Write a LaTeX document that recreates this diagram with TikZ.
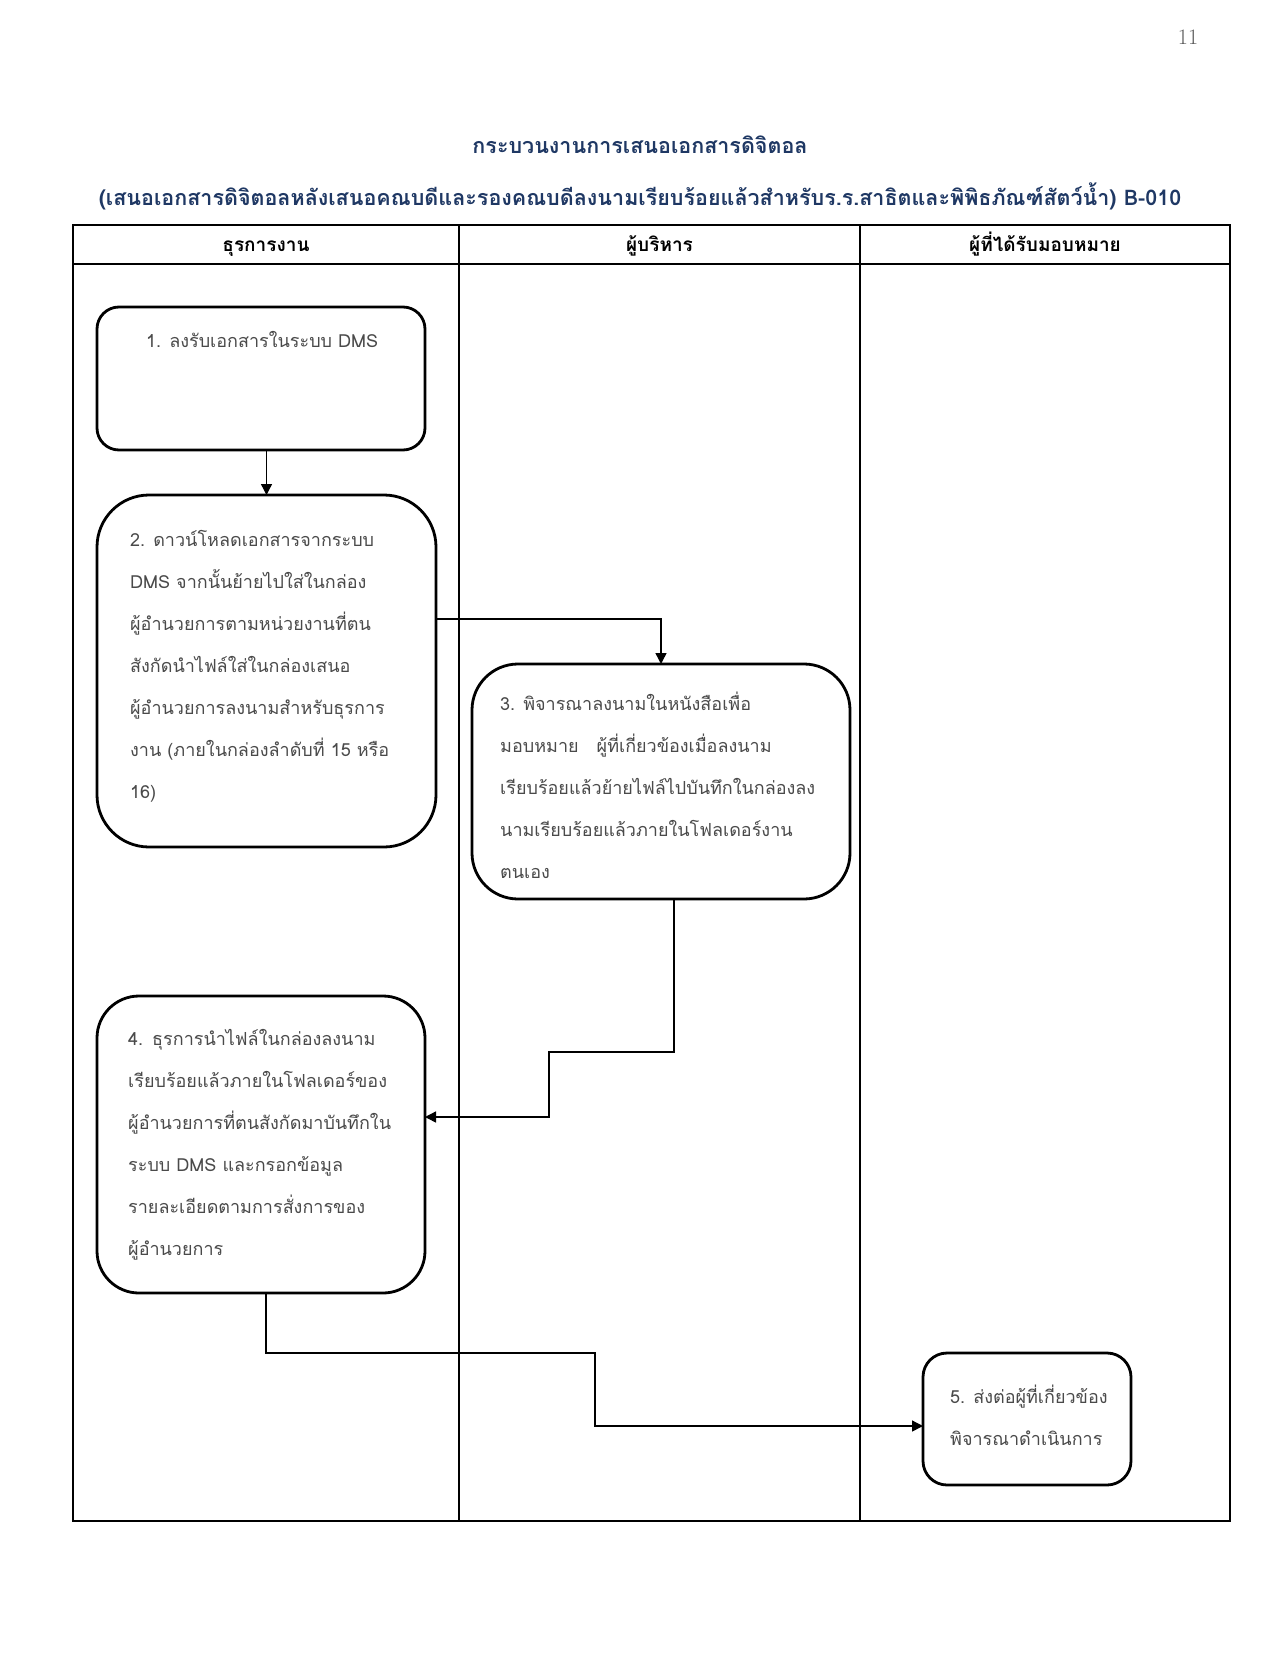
\documentclass[tikz,border=0pt]{standalone}
\usepackage{fontspec}
\newfontfamily\thai[Script=Thai]{Loma}
\usetikzlibrary{arrows.meta,calc}
\definecolor{titleblue}{HTML}{1F3864}
\definecolor{bodygray}{HTML}{4A4A4A}
\tikzset{
  lane/.style={line width=1.4pt, draw=black},
  flowbox/.style={draw=black, line width=2.8pt, fill=none, inner sep=0pt, outer sep=0pt},
  boxtext/.style={font=\thai\fontsize{18}{42}\selectfont, text=bodygray, align=left, inner sep=0pt, anchor=north west},
  headtext/.style={font=\thai\bfseries\fontsize{19}{22}\selectfont, text=black, inner sep=0pt, anchor=base},
  titletext/.style={font=\thai\bfseries\fontsize{21.5}{26}\selectfont, text=titleblue, inner sep=0pt},
  conn/.style={line width=1.4pt, draw=black},
  arr/.style={conn, -{Triangle[length=11pt,width=11pt]}}
}
\begin{document}
\begin{tikzpicture}[x=1pt,y=-1pt]
\useasboundingbox[fill=white] (0,0) rectangle (1280,1656);
% page number
\node[font=\fontsize{22}{24}\selectfont, text=black!65, inner sep=0pt] (pagenum) at (1188,37) {11};
% titles
\node[titletext] (title1) at (640,145) {กระบวนงานการเสนอเอกสารดิจิตอล};
\node[titletext] (title2) at (640,196) {(เสนอเอกสารดิจิตอลหลังเสนอคณบดีและรองคณบดีลงนามเรียบร้อยแล้วสำหรับร.ร.สาธิตและพิพิธภัณฑ์สัตว์น้ำ) B-010};
% table
\draw[lane] (73,225) rectangle (1230,1521);
\draw[lane] (73,264) -- (1230,264);
\draw[lane] (459,225) -- (459,1521);
\draw[lane] (860,225) -- (860,1521);
\node[headtext] (h1) at (266,251) {ธุรการงาน};
\node[headtext] (h2) at (659.5,251) {ผู้บริหาร};
\node[headtext] (h3) at (1045,251) {ผู้ที่ได้รับมอบหมาย};
% boxes
\node[flowbox, rounded corners=22pt, minimum width=328pt, minimum height=143pt] (b1) at (261,378.5) {};
\node[flowbox, rounded corners=52pt, minimum width=339pt, minimum height=352pt] (b2) at (266.5,671) {};
\node[flowbox, rounded corners=46pt, minimum width=378pt, minimum height=235pt] (b3) at (661,781.5) {};
\node[flowbox, rounded corners=42pt, minimum width=328pt, minimum height=297pt] (b4) at (261,1144.5) {};
\node[flowbox, rounded corners=24pt, minimum width=208pt, minimum height=132pt] (b5) at (1027,1419) {};
% box texts (top = first baseline - 0.7*42)
\node[boxtext] (t1) at (146,318) {\strut 1. ลงรับเอกสารในระบบ DMS};
\node[boxtext] (t2) at (130,517) {\strut 2. ดาวน์โหลดเอกสารจากระบบ\\DMS จากนั้นย้ายไปใส่ในกล่อง\\ผู้อำนวยการตามหน่วยงานที่ตน\\สังกัดนำไฟล์ใส่ในกล่องเสนอ\\ผู้อำนวยการลงนามสำหรับธุรการ\\งาน (ภายในกล่องลำดับที่ 15 หรือ\\16)};
\node[boxtext] (t3) at (500,681) {\strut 3. พิจารณาลงนามในหนังสือเพื่อ\\มอบหมาย\quad ผู้ที่เกี่ยวข้องเมื่อลงนาม\\เรียบร้อยแล้วย้ายไฟล์ไปบันทึกในกล่องลง\\นามเรียบร้อยแล้วภายในโฟลเดอร์งาน\\ตนเอง};
\node[boxtext] (t4) at (128,1016) {\strut 4.\enspace ธุรการนำไฟล์ในกล่องลงนาม\\เรียบร้อยแล้วภายในโฟลเดอร์ของ\\ผู้อำนวยการที่ตนสังกัดมาบันทึกใน\\ระบบ DMS และกรอกข้อมูล\\รายละเอียดตามการสั่งการของ\\ผู้อำนวยการ};
\node[boxtext] (t5) at (950,1374) {\strut 5. ส่งต่อผู้ที่เกี่ยวข้อง\\พิจารณาดำเนินการ};
% connectors
\draw[arr] (b2.north |- b1.south) -- (b2.north);
\coordinate (c2out) at (b2.east |- 0,619);
\draw[arr] (c2out) -| (b3.north);
\coordinate (c3out) at ($(b3.south)+(13,0)$);
\coordinate (c4in) at (b4.east |- 0,1117);
\draw[arr] (c3out) |- (549,1052) |- (c4in);
\coordinate (c4out) at ($(b4.south)+(5,0)$);
\coordinate (c5in) at (b5.west |- 0,1426);
\draw[arr] (c4out) |- (595,1353) |- (c5in);
\end{tikzpicture}
\end{document}
